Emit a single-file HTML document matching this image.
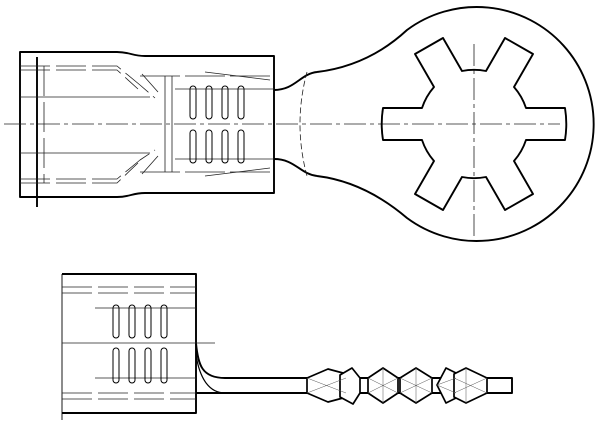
<!DOCTYPE html>
<html><head><meta charset="utf-8"><style>html,body{margin:0;padding:0;background:#fff}svg{display:block}</style></head>
<body>
<svg width="600" height="441" viewBox="0 0 600 441" xmlns="http://www.w3.org/2000/svg" fill="none" stroke="#000" stroke-linejoin="round">
<!-- TOP VIEW -->
<g stroke-width="1.9">
<path d="M20,52 L117,52 C130,52 132,56 145,56 L274,56 L274,193 L145,193 C132,193 130,197 117,197 L20,197 Z"/>
<path d="M274,90 C295,90 300,74 317,72"/>
<path d="M274,159 C295,159 300,174 317,176"/>
<path d="M317,72 C350,68 380,55 407,30 A117,117 0 1 1 407,218 C380,195 350,180 317,176"/>
<line x1="37" y1="57" x2="37" y2="207"/>
</g>
<g stroke-width="0.8" stroke="#222">
<line x1="4" y1="124" x2="560" y2="124" stroke-dasharray="22,4,4,4"/>
<line x1="474" y1="44" x2="474" y2="240" stroke-dasharray="22,4,4,4"/>
<path d="M307,72 Q293,124 307,176" stroke-dasharray="6,3"/>
<path d="M20,66 L117,66 L140,85 L155,98 M20,70 L117,70 L138,89 M44,66 L44,183" stroke-dasharray="30,6"/>
<line x1="20" y1="97" x2="150" y2="97"/>
<line x1="20" y1="153" x2="150" y2="153"/>
<path d="M20,179 L117,179 L140,160 L155,150 M20,183 L117,183 L138,163" stroke-dasharray="30,6"/>
<path d="M142,74 L158,92 M142,174 L158,156"/>
<path d="M165,76 L165,172 M172,76 L172,172"/>
<path d="M140,76 L274,76 M140,172 L274,172" stroke-dasharray="40,5"/>
<path d="M175,89 L274,89 M175,159 L274,159"/>
<path d="M205,72 L270,80 M205,176 L270,168"/>
</g>
<g stroke-width="1">
<rect x="190" y="86" width="6" height="33" rx="3"/><rect x="190" y="130" width="6" height="33" rx="3"/>
<rect x="206" y="86" width="6" height="33" rx="3"/><rect x="206" y="130" width="6" height="33" rx="3"/>
<rect x="222" y="86" width="6" height="33" rx="3"/><rect x="222" y="130" width="6" height="33" rx="3"/>
<rect x="238" y="86" width="6" height="33" rx="3"/><rect x="238" y="130" width="6" height="33" rx="3"/>
</g>
<!-- BOTTOM VIEW -->
<g stroke-width="1.9">
<path d="M62,274 L196,274 L196,413 L62,413"/>
<path d="M196,343 C198,365 202,378 225,378 L512,378 L512,393 L196,393"/>
<path d="M196,355 C200,380 210,393 225,393" stroke-width="1.2"/>
</g>
<line x1="62" y1="274" x2="62" y2="420" stroke-width="0.9"/>
<g stroke-width="0.8" stroke="#222">
<path d="M62,287 L196,287 M62,293 L196,293 M62,393 L196,393 M62,399 L196,399" stroke-dasharray="30,6"/>
<line x1="95" y1="308" x2="196" y2="308"/>
<line x1="62" y1="343" x2="215" y2="343"/>
<line x1="95" y1="378" x2="196" y2="378"/>
</g>
<g stroke-width="1">
<rect x="113" y="305" width="6" height="33" rx="3"/><rect x="113" y="348" width="6" height="35" rx="3"/>
<rect x="129" y="305" width="6" height="33" rx="3"/><rect x="129" y="348" width="6" height="35" rx="3"/>
<rect x="145" y="305" width="6" height="33" rx="3"/><rect x="145" y="348" width="6" height="35" rx="3"/>
<rect x="161" y="305" width="6" height="33" rx="3"/><rect x="161" y="348" width="6" height="35" rx="3"/>
</g>
<g stroke-width="1.7" fill="#fff">
<path d="M307,378 L328,369 L343,373 L348,385 L343,398 L328,402 L307,393 Z"/>
<path d="M340,375 L352,368 L360,378 L360,393 L353,404 L340,397 Z"/>
<path d="M368,378 L383,368 L398,378 L398,393 L383,403 L368,393 Z"/>
<path d="M400,378 L416,368 L432,378 L432,393 L416,403 L400,393 Z"/>
<path d="M437,385 L446,368 L456,373 L456,398 L446,403 Z"/>
<path d="M454,374 L466,368 L487,378 L487,393 L466,403 L454,397 Z"/>
</g>
<g stroke-width="0.5" stroke="#555">
<path d="M307,378 L346,393 M307,393 L346,378 M368,378 L398,393 M368,393 L398,378 M383,368 L383,403 M400,378 L432,393 M400,393 L432,378 M416,368 L416,403 M454,378 L487,393 M454,393 L487,378 M466,368 L466,403 M437,385 L456,378 M437,385 L456,393"/>
</g>
<g stroke-width="1.9" fill="none" transform="translate(474,124)">
<path d="M-91,-16 L-52,-16 A61,61 0 0 1 -40,-37 L-59,-70 L-31,-86 L-12,-53 A61,61 0 0 1 12,-53 L31,-86 L59,-70 L40,-37 A61,61 0 0 1 52,-16 L91,-16 A100,100 0 0 1 91,16 L52,16 A61,61 0 0 1 40,37 L59,70 L31,86 L12,53 A61,61 0 0 1 -12,53 L-31,86 L-59,70 L-40,37 A61,61 0 0 1 -52,16 L-91,16 A100,100 0 0 1 -91,-16 Z"/>
</g>
</svg>
</body></html>
